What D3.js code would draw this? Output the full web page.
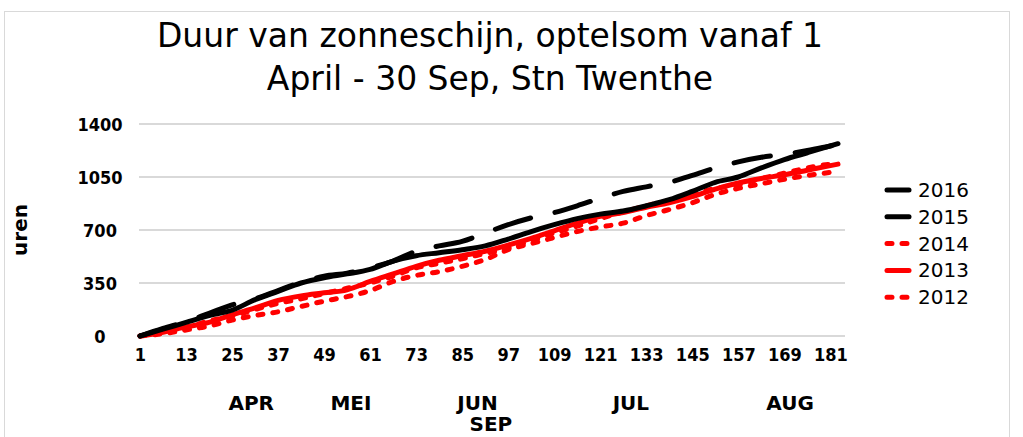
<!DOCTYPE html>
<html>
<head>
<meta charset="utf-8">
<script src="https://cdn.jsdelivr.net/npm/d3@7"></script>
<style>
  body { margin: 0; background: #fff; }
  svg { display: block; font-family: "DejaVu Sans", sans-serif; }
</style>
</head>
<body>
<div id="viz"></div>
<script>
const days = [1, 7, 13, 19, 25, 31, 37, 43, 49, 55, 61, 67, 73, 79, 85, 91,
              97, 103, 109, 115, 121, 127, 133, 139, 145, 151, 157, 163, 169, 175, 181, 183];

const y2016 = [0, 45, 90, 135, 170, 240, 295, 350, 385, 410, 440, 495, 530, 550, 570, 595,
               640, 690, 735, 775, 805, 825, 860, 900, 955, 1015, 1050, 1110, 1165, 1210, 1255, 1270];
const y2015 = [0, 50, 95, 150, 205, 245, 300, 355, 395, 415, 450, 495, 560, 595, 625, 680,
               735, 780, 815, 860, 910, 955, 985, 1015, 1060, 1110, 1150, 1180, 1200, 1225, 1255, 1265];
const y2014 = [0, 30, 55, 100, 130, 175, 215, 245, 280, 315, 350, 395, 450, 480, 510, 545,
               580, 630, 680, 725, 775, 820, 860, 895, 935, 975, 1000, 1040, 1075, 1110, 1135, 1140];
const y2013 = [0, 25, 60, 90, 140, 185, 235, 265, 285, 305, 360, 410, 460, 500, 530, 560,
               600, 645, 695, 745, 790, 815, 850, 880, 920, 970, 1010, 1040, 1065, 1095, 1125, 1135];
const y2012 = [0, 15, 40, 65, 105, 135, 160, 195, 230, 260, 300, 360, 400, 425, 460, 505,
               570, 610, 650, 690, 720, 745, 795, 835, 880, 935, 975, 1005, 1035, 1060, 1080, 1085];

const years = ["2016", "2015", "2014", "2013", "2012"];
const yTicks = [0, 350, 700, 1050, 1400];
const xTicks = [1, 13, 25, 37, 49, 61, 73, 85, 97, 109, 121, 133, 145, 157, 169, 181];
const months = ["APR", "MEI", "JUN", "JUL", "AUG"];

const width = 1023, height = 437;
const plot = { left: 140, right: 838, top: 124, bottom: 336 };
const condensed = "'DejaVu Sans Condensed', 'DejaVu Sans', sans-serif";

const series = [
    { name: years[0], values: y2016, color: "#000", dash: null },
    { name: years[1], values: y2015, color: "#000", dash: "37,25" },
    { name: years[2], values: y2014, color: "#ff0000", dash: "5,10" },
    { name: years[3], values: y2013, color: "#ff0000", dash: null },
    { name: years[4], values: y2012, color: "#ff0000", dash: "5,10" }
];

const svg = d3.select("#viz").append("svg")
    .attr("width", width)
    .attr("height", height);

// chart border
svg.append("rect")
    .attr("x", 4.5).attr("y", 11.5)
    .attr("width", 1005).attr("height", 440)
    .attr("fill", "none")
    .attr("stroke", "#d9d9d9");

const x = d3.scaleLinear().domain([1, 183]).range([plot.left, plot.right]);
const y = d3.scaleLinear().domain([0, 1400]).range([plot.bottom, plot.top]);

// gridlines
svg.append("g")
    .selectAll("line")
    .data(yTicks)
    .enter()
    .append("line")
        .attr("x1", plot.left - 1)
        .attr("x2", 845)
        .attr("y1", d => y(d))
        .attr("y2", d => y(d))
        .attr("stroke", "#d9d9d9")
        .attr("stroke-width", 2);

// y axis labels
const yAxis = svg.append("g")
    .attr("transform", "translate(100,0)")
    .call(d3.axisLeft(y).tickValues(yTicks).tickFormat(d3.format("d")).tickSize(0).tickPadding(0));
yAxis.select(".domain").remove();
yAxis.selectAll("text")
    .attr("dy", "0.36em")
    .attr("text-anchor", "middle")
    .style("font-size", "18px")
    .style("font-weight", "bold")
    .style("font-family", condensed)
    .attr("fill", "#000");

// x axis labels
const xAxis = svg.append("g")
    .attr("transform", `translate(0,${plot.bottom + 12})`)
    .call(d3.axisBottom(x).tickValues(xTicks).tickSize(0).tickPadding(0));
xAxis.select(".domain").remove();
xAxis.selectAll("text")
    .attr("dy", "0.71em")
    .style("font-size", "18px")
    .style("font-weight", "bold")
    .style("font-family", condensed)
    .attr("fill", "#000");

// month labels (placed where the original puts them)
const monthDay = [30, 56, 89, 129, 170.5];
svg.append("g")
    .selectAll("text")
    .data(months)
    .enter()
    .append("text")
        .attr("x", (d, i) => x(monthDay[i]))
        .attr("y", 410)
        .attr("text-anchor", "middle")
        .style("font-size", "20px")
        .style("font-weight", "bold")
        .text(d => d);
svg.append("text")
    .attr("x", x(92.5))
    .attr("y", 431)
    .attr("text-anchor", "middle")
    .style("font-size", "20px")
    .style("font-weight", "bold")
    .text("SEP");

// y axis title
svg.append("text")
    .attr("transform", "rotate(-90)")
    .attr("x", -230)
    .attr("y", 27)
    .attr("text-anchor", "middle")
    .style("font-size", "20px")
    .style("font-weight", "bold")
    .text("uren");

// chart title
svg.append("text")
    .attr("x", 490).attr("y", 47)
    .attr("text-anchor", "middle")
    .style("font-size", "33px")
    .text("Duur van zonneschijn, optelsom vanaf 1");
svg.append("text")
    .attr("x", 490).attr("y", 90)
    .attr("text-anchor", "middle")
    .style("font-size", "33px")
    .text("April - 30 Sep, Stn Twenthe");

// lines, red first so black sits on top
const line = d3.line()
    .x((d, i) => x(days[i]))
    .y(d => y(d))
    .curve(d3.curveMonotoneX);

svg.append("g")
    .selectAll("path")
    .data(series.slice().reverse())
    .enter()
    .append("path")
        .attr("d", d => line(d.values))
        .attr("fill", "none")
        .attr("stroke", d => d.color)
        .attr("stroke-width", 5)
        .attr("stroke-linecap", "round")
        .attr("stroke-linejoin", "round")
        .attr("stroke-dasharray", d => d.dash);

// legend
const legend = svg.append("g")
    .selectAll("g")
    .data(series)
    .enter()
    .append("g")
        .attr("transform", (d, i) => `translate(885,${190 + i * 26.8})`);
legend.append("line")
    .attr("x1", 2).attr("x2", 24)
    .attr("stroke", d => d.color)
    .attr("stroke-width", 5)
    .attr("stroke-linecap", "round")
    .attr("stroke-dasharray", d => d.dash);
legend.append("text")
    .attr("x", 33)
    .attr("y", 7)
    .style("font-size", "20px")
    .text(d => d.name);
</script>
</body>
</html>
